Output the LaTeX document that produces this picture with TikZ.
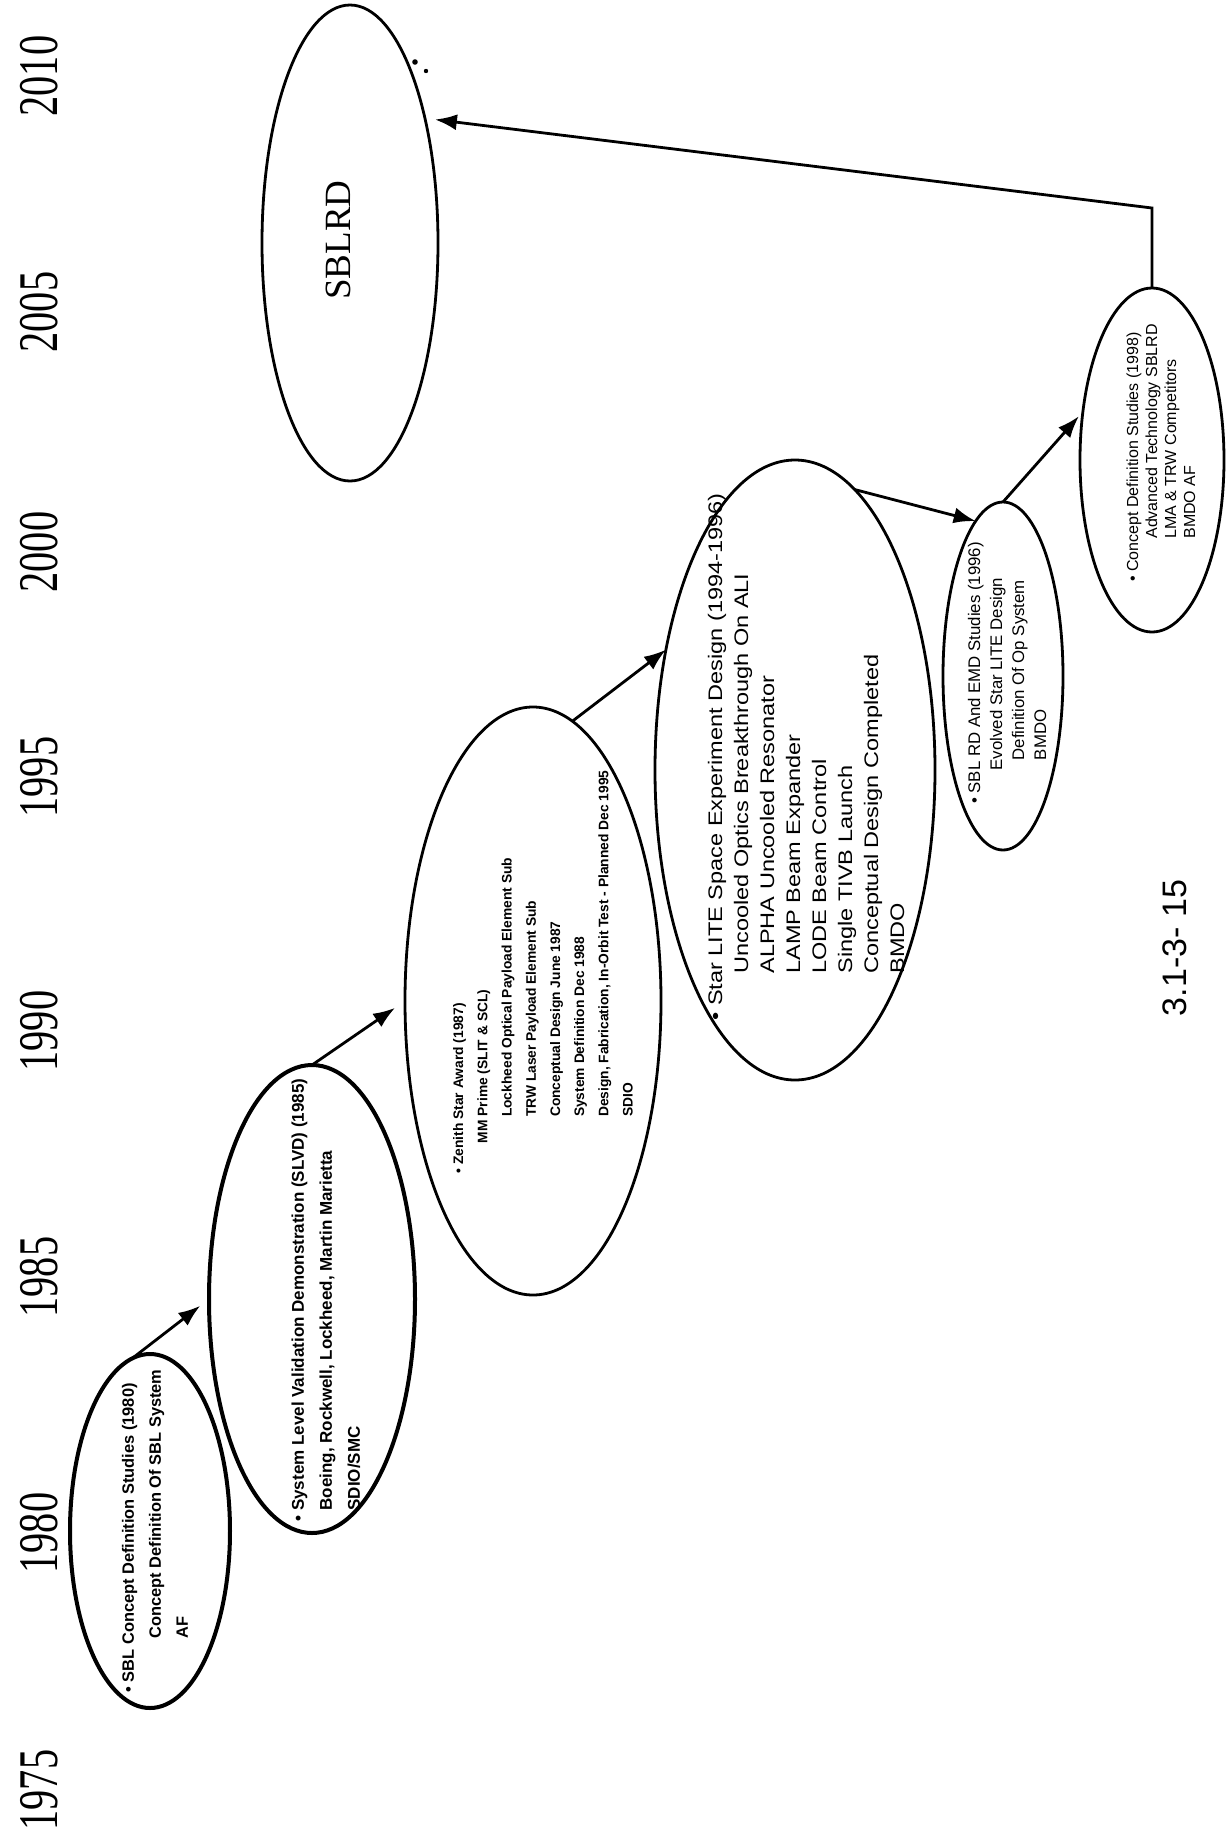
\documentclass[tikz,border=0pt]{standalone}
\usepackage{fontspec}
\setmainfont{Liberation Serif}
\setsansfont{Liberation Sans}
\usetikzlibrary{shapes.geometric,arrows.meta,calc}

\begin{document}
\begin{tikzpicture}[
    x=0.5pt, y=-0.5pt,
    phase/.style={ellipse, draw, line width=1.4pt, rotate=90, inner sep=0pt, outer sep=0pt},
    phasetext/.style={rotate=90, align=left, inner sep=0pt, font=\sffamily},
    year/.style={rotate=90, xscale=0.72, inner sep=0pt, font=\fontsize{28}{28}\selectfont},
    arrow/.style={-{Latex[length=11pt,width=8pt]}, line width=1.4pt}
]

% Sheet
\useasboundingbox (0,0) rectangle (1232,1832);

% Time axis
\foreach \yr/\ypos in {1975/1790,1980/1533,1985/1277,1990/1031,1995/777,2000/552,2005/312,2010/76}
    \node[year] (y\yr) at (39,\ypos) {\yr};

% Phases
\node[phase, line width=2pt, minimum width=177pt, minimum height=80pt] (sbi) at (150,1531) {};
\node[phase, line width=2pt, minimum width=234pt, minimum height=103pt] (slvd) at (312,1299) {};
\node[phase, minimum width=294pt, minimum height=128pt] (zen) at (533,1001) {};
\node[phase, minimum width=310pt, minimum height=140pt] (star) at (795,770) {};
\node[phase, minimum width=174pt, minimum height=60pt] (sbl) at (1003,676) {};
\node[phase, minimum width=172pt, minimum height=72pt] (six) at (1152,460) {};
\node[phase, minimum width=238pt, minimum height=88pt] (sblrd) at (350,243) {};

% Phase texts
\node[phasetext, font=\sffamily\bfseries\fontsize{8.2}{13.5}\selectfont] (sbitext) at (155,1531) {%
    \textbullet~SBL Concept Definition Studies (1980)\\
    \hspace*{3.3em}Concept Definition Of SBL System\\
    \hspace*{3.3em}AF};
\node[phasetext, font=\sffamily\bfseries\fontsize{8.5}{14}\selectfont] (slvdtext) at (326,1300) {%
    \textbullet~System Level Validation Demonstration (SLVD) (1985)\\
    \hspace*{0.65em}Boeing, Rockwell, Lockheed, Martin Marietta\\
    \hspace*{0.65em}SDIO/SMC};
\node[phasetext, font=\sffamily\bfseries\fontsize{6.9}{12.1}\selectfont] (zentext) at (543,972) {%
    \textbullet~Zenith Star Award (1987)\\
    \hspace*{2.2em}MM Prime (SLIT \& SCL)\\
    \hspace*{4.1em}Lockheed Optical Payload Element Sub\\
    \hspace*{4.1em}TRW Laser Payload Element Sub\\
    \hspace*{4.1em}Conceptual Design June 1987\\
    \hspace*{4.1em}System Definition Dec 1988\\
    \hspace*{4.1em}Design, Fabrication, In-Orbit Test - Planned Dec 1995\\
    \hspace*{4.1em}SDIO};
\node[phasetext, xscale=1.2, font=\sffamily\fontsize{9.8}{13}\selectfont] (startext) at (806,757) {%
    \textbullet~Star LITE Space Experiment Design (1994-1996)\\
    \hspace*{2em}Uncooled Optics Breakthrough On ALI\\
    \hspace*{2em}ALPHA Uncooled Resonator\\
    \hspace*{2em}LAMP Beam Expander\\
    \hspace*{2em}LODE Beam Control\\
    \hspace*{2em}Single TIVB Launch\\
    \hspace*{2em}Conceptual Design Completed\\
    \hspace*{2em}BMDO};
\node[phasetext, font=\sffamily\fontsize{8.4}{11}\selectfont] (sbltext) at (1007,673) {%
    \textbullet~SBL RD And EMD Studies (1996)\\
    \hspace*{2em}Evolved Star LITE Design\\
    \hspace*{2.6em}Definition Of Op System\\
    \hspace*{2.6em}BMDO};
\node[phasetext, font=\sffamily\fontsize{8}{9.5}\selectfont] (sixtext) at (1161,453) {%
    \textbullet~Concept Definition Studies (1998)\\
    \hspace*{2.7em}Advanced Technology SBLRD\\
    \hspace*{2.7em}LMA \& TRW Competitors\\
    \hspace*{2.7em}BMDO AF};
\node[rotate=90, inner sep=0pt, font=\fontsize{18.5}{20}\selectfont] (sblrdtext) at (338,240) {SBLRD};

% Figure number
\node[rotate=90, inner sep=0pt, font=\sffamily\fontsize{17}{17}\selectfont] (figno) at (1175,948) {3.1-3- 15};

% Arrows
\draw[arrow, shorten >=5.5pt] (sbi.6) -- (slvd.north);
\draw[arrow, shorten >=6pt] (slvd.east) -- (zen.north);
\draw[arrow] (zen.-8) -- (star.47);
\draw[arrow] (star.-12) -- (sbl.10);
\draw[arrow, shorten >=3pt] (sbl.east) -- (six.55);
\coordinate (bend) at (1152,208);
\draw[arrow, shorten >=5pt] (six.east) -- (bend) -- (sblrd.-31);

% Specks by the last ellipse
\fill (415,62) circle (1.4pt);
\fill (426,71) circle (1.1pt);

\end{tikzpicture}
\end{document}
